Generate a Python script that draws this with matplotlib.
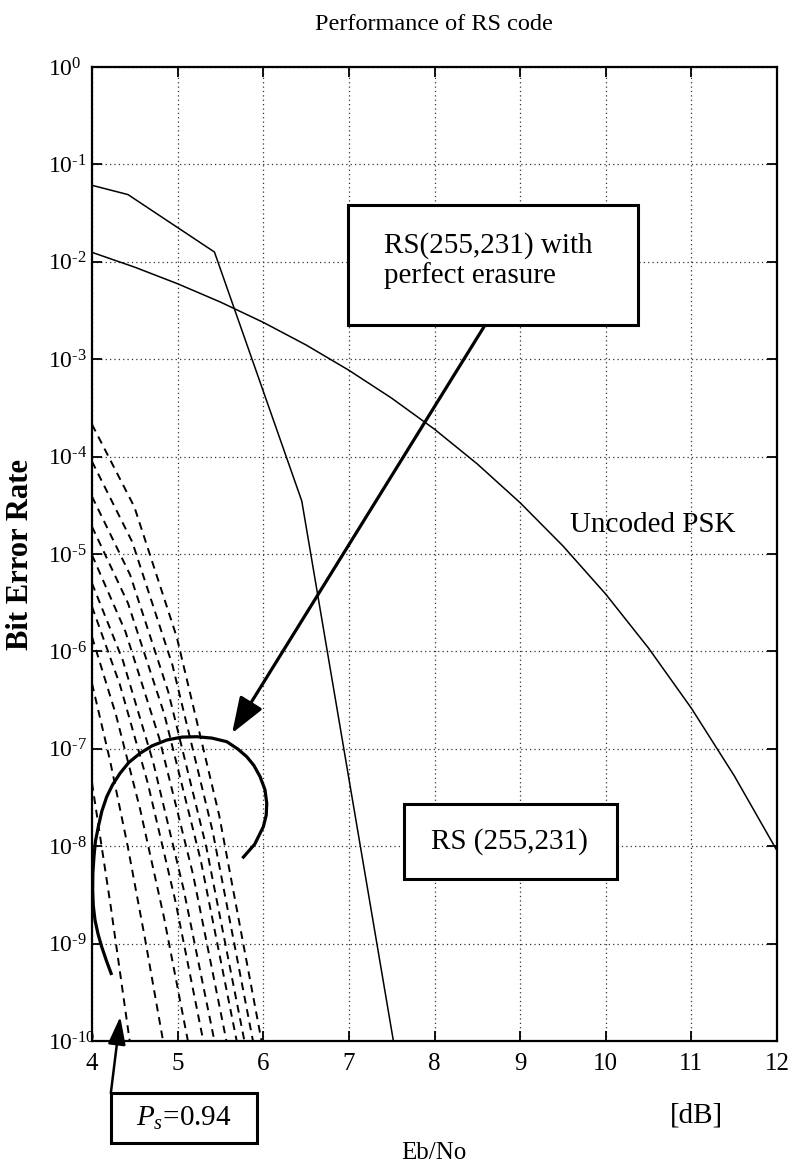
import matplotlib
matplotlib.use("Agg")
import matplotlib.pyplot as plt
from matplotlib.patches import Rectangle
from matplotlib.ticker import FixedLocator, NullLocator

plt.rcParams["font.family"] = ["Liberation Serif", "DejaVu Serif"]
plt.rcParams["mathtext.fontset"] = "custom"
plt.rcParams["mathtext.rm"] = "Liberation Serif"
plt.rcParams["mathtext.it"] = "Liberation Serif:italic"

# ---- data -------------------------------------------------------------
# Uncoded PSK
psk_ebno = [4.0, 4.5, 5.0, 5.5, 6.0, 6.5, 7.0, 7.5, 8.0, 8.5, 9.0, 9.5,
            10.0, 10.5, 11.0, 11.5, 12.0]
psk_ber = [1.25e-2, 8.8e-3, 5.95e-3, 3.86e-3, 2.39e-3, 1.40e-3, 7.7e-4,
           3.98e-4, 1.91e-4, 8.4e-5, 3.36e-5, 1.21e-5, 3.87e-6, 1.08e-6,
           2.61e-7, 5.3e-8, 9.0e-9]

# RS(255,231)
rs_ebno = [4.0, 4.42, 5.43, 6.45, 7.52]
rs_ber = [6.1e-2, 4.9e-2, 1.26e-2, 3.5e-5, 1.0e-10]

# RS(255,231) with perfect erasure, one curve per symbol probability
erasure_ebno = [
    [4.0, 4.495, 4.99, 5.485, 5.98],
    [4.0, 4.47, 4.94, 5.41, 5.88],
    [4.0, 4.445, 4.89, 5.335, 5.78],
    [4.0, 4.42, 4.845, 5.27, 5.69],
    [4.0, 4.39, 4.785, 5.18, 5.57],
    [4.0, 4.36, 4.715, 5.07, 5.43],
    [4.0, 4.325, 4.65, 4.975, 5.30],
    [4.0, 4.28, 4.56, 4.84, 5.12],
    [4.0, 4.21, 4.415, 4.62, 4.83],
    [4.0, 4.22, 4.44],
]
erasure_ber = [
    [2.14e-4, 3.04e-5, 1.40e-6, 2.08e-8, 1e-10],
    [8.91e-5, 1.33e-5, 7.21e-7, 1.41e-8, 1e-10],
    [3.89e-5, 6.11e-6, 3.86e-7, 9.79e-9, 1e-10],
    [1.91e-5, 3.13e-6, 2.26e-7, 7.16e-9, 1e-10],
    [9.77e-6, 1.60e-6, 1.29e-7, 5.13e-9, 1e-10],
    [5.01e-6, 8.09e-7, 7.26e-8, 3.61e-9, 1e-10],
    [2.88e-6, 4.58e-7, 4.49e-8, 2.70e-9, 1e-10],
    [1.41e-6, 2.23e-7, 2.44e-8, 1.87e-9, 1e-10],
    [4.68e-7, 7.62e-8, 1.02e-8, 1.11e-9, 1e-10],
    [4.47e-8, 2.37e-9, 1e-10],
]

x_ticks = [4, 5, 6, 7, 8, 9, 10, 11, 12]
y_exponents = [0, -1, -2, -3, -4, -5, -6, -7, -8, -9, -10]

# curled pointer drawn round the erasure family
curl_ebno = [5.756, 5.90, 6.001, 6.035, 6.041, 6.02, 5.963, 5.89, 5.807, 5.70,
             5.574, 5.40, 5.223, 5.05, 4.873, 4.70, 4.561, 4.43, 4.327, 4.24,
             4.172, 4.115, 4.074, 4.04, 4.023, 4.01, 4.008, 4.015, 4.035,
             4.07, 4.113, 4.17, 4.230]
curl_exp = [-8.124, -7.98, -7.800, -7.68, -7.560, -7.42, -7.286, -7.17,
            -7.081, -7.00, -6.927, -6.89, -6.876, -6.88, -6.910, -6.97,
            -7.046, -7.14, -7.252, -7.37, -7.492, -7.64, -7.800, -7.95,
            -8.108, -8.28, -8.450, -8.61, -8.758, -8.90, -9.032, -9.18, -9.322]

# ---- figure -----------------------------------------------------------
W, H = 793, 1174
fig = plt.figure(figsize=(W / 100, H / 100), dpi=100)
ax_l, ax_r, ax_t, ax_b = 92, 777, 67, 1041
ax = fig.add_axes([ax_l / W, (H - ax_b) / H, (ax_r - ax_l) / W, (ax_b - ax_t) / H])

ax.set_yscale("log")
ax.set_xlim(4, 12)
ax.set_ylim(1e-10, 1)

ax.plot(psk_ebno, psk_ber, color="black", lw=1.1, zorder=3)
ax.plot(rs_ebno, rs_ber, color="black", lw=1.1, zorder=3)
for xs, ys in zip(erasure_ebno, erasure_ber):
    ax.plot(xs, ys, color="black", lw=1.4, linestyle=(0, (4, 3)), zorder=3)

ax.plot(curl_ebno, [10.0 ** e for e in curl_exp], color="black", lw=2.3,
        solid_capstyle="butt", zorder=4)

# axes styling
ax.xaxis.set_major_locator(FixedLocator(x_ticks))
ax.yaxis.set_major_locator(FixedLocator([10.0 ** e for e in y_exponents]))
ax.xaxis.set_minor_locator(NullLocator())
ax.yaxis.set_minor_locator(NullLocator())
ax.set_xticklabels([str(t) for t in x_ticks], fontsize=18)


def decade_label(e):
    if e < 0:
        return r"$\mathregular{10^{\text{-}%d}}$" % (-e)
    return r"$\mathregular{10^{%d}}$" % e


ax.set_yticklabels([decade_label(e) for e in y_exponents], fontsize=17)
for lab in ax.get_yticklabels():
    lab.set_horizontalalignment("left")
ax.tick_params(axis="both", direction="in", length=7, width=1.3,
               top=True, right=True)
ax.tick_params(axis="y", pad=32)
ax.tick_params(axis="x", pad=9)
for sp in ax.spines.values():
    sp.set_linewidth(1.6)
ax.grid(True, which="major", color="#333333", linestyle=(0, (1, 2.5)), lw=0.9)

ax.set_xlabel("Eb/No", fontsize=18)
ax.xaxis.label.set_va("center")
ax.xaxis.set_label_coords(0.499, -0.115)
ax.set_ylabel("Bit Error Rate", fontsize=22, fontweight="bold")
ax.yaxis.label.set_va("center")
ax.yaxis.set_label_coords(-0.105, 0.5)

fig.text(434 / W, 1 - 25 / H, "Performance of RS code", ha="center",
         va="center", fontsize=17.5)

# ---- annotations ------------------------------------------------------
def box(x0, x1, y0, y1):
    ax.add_patch(Rectangle((x0, y0), x1 - x0, y1 - y0, transform=ax.transAxes,
                           facecolor="white", edgecolor="black", lw=2.2,
                           clip_on=False, zorder=6))

box(0.3737, 0.797, 0.735, 0.858)
ax.text(0.426, 0.8013, "RS(255,231) with\nperfect erasure", transform=ax.transAxes,
        ha="left", va="center", fontsize=21, linespacing=1.1, zorder=7)

box(0.455, 0.766, 0.166, 0.243)
ax.text(0.610, 0.205, "RS (255,231)", transform=ax.transAxes, ha="center",
        va="center", fontsize=21, zorder=7)

box(0.0277, 0.241, -0.1047, -0.0534)
ax.text(0.134, -0.079, r"$P_s$=0.94", transform=ax.transAxes, ha="center",
        va="center", fontsize=21, zorder=7)

ax.text(0.819, 0.530, "Uncoded PSK", transform=ax.transAxes, ha="center",
        va="center", fontsize=21, zorder=7)
ax.text(0.882, -0.076, "[dB]", transform=ax.transAxes, ha="center",
        va="center", fontsize=21)

ax.annotate("", xy=(5.636, 10 ** -6.84), xytext=(8.59, 10 ** -2.65),
            arrowprops=dict(arrowstyle="-|>,head_length=1.1,head_width=0.4",
                            mutation_scale=20, lw=2.3, color="black",
                            shrinkA=0, shrinkB=0),
            annotation_clip=False, zorder=5)
ax.annotate("", xy=(4.33, 10 ** -9.75), xytext=(4.22, 10 ** -10.535),
            arrowprops=dict(arrowstyle="-|>,head_length=0.85,head_width=0.27",
                            mutation_scale=20, lw=1.8, color="black",
                            shrinkA=0, shrinkB=0),
            annotation_clip=False, zorder=5)

fig.savefig("out.png", dpi=100, facecolor="white")
